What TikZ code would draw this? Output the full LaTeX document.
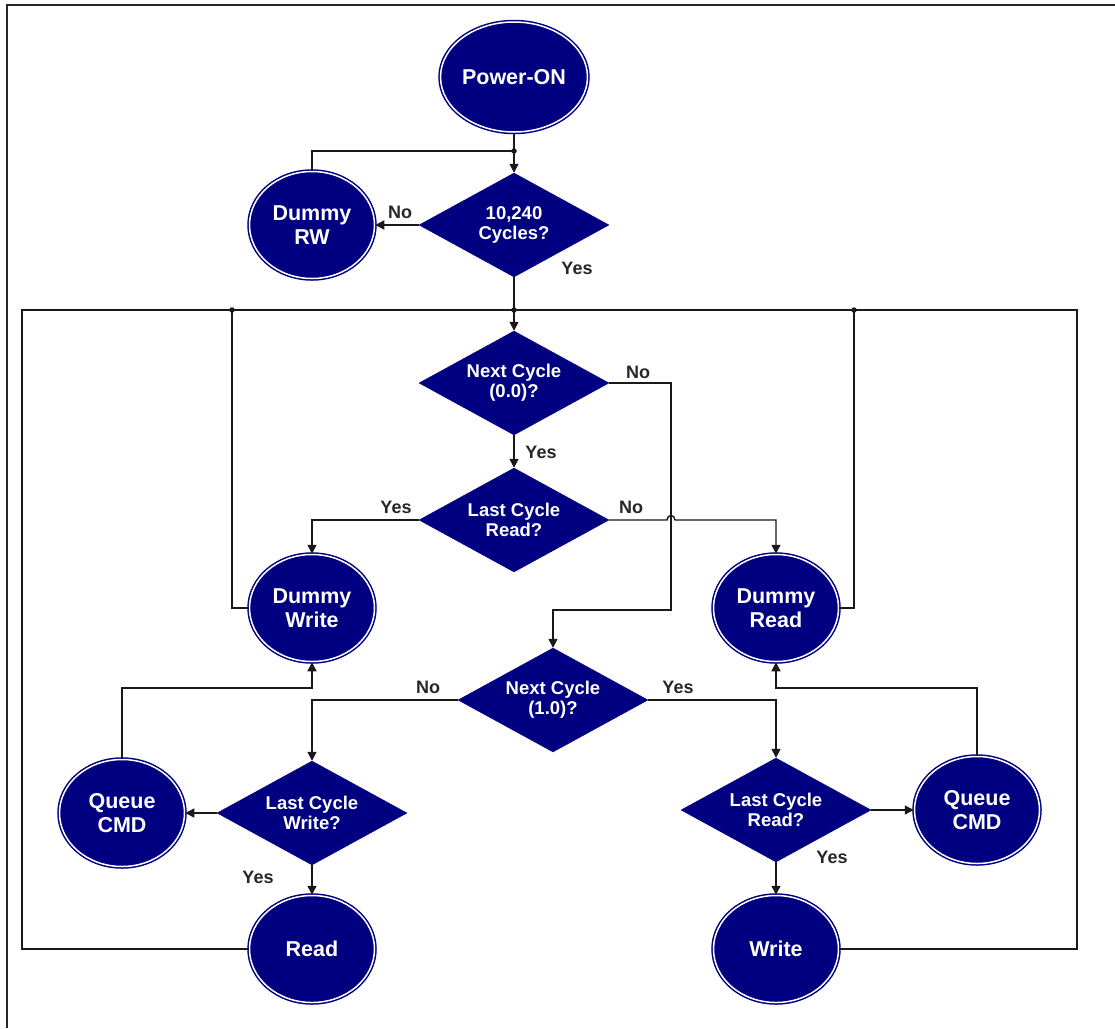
\documentclass[tikz,border=0pt]{standalone}
\usepackage{fontspec}
\setmainfont{Liberation Sans}
\usetikzlibrary{shapes.geometric,arrows.meta}
\definecolor{navyfill}{RGB}{0,0,128}
\definecolor{wire}{RGB}{25,25,25}

\begin{document}
\begin{tikzpicture}[x=1pt,y=-1pt,
  state/.style={ellipse, fill=navyfill, draw=navyfill, line width=1.5pt,
    double=white, double distance=1.5pt, minimum width=125pt, minimum height=107pt,
    inner sep=0pt, text=white, font=\fontsize{21.5}{24}\selectfont\bfseries, align=center},
  test/.style={diamond, shape aspect=1.83, fill=navyfill, draw=navyfill, line width=0.4pt,
    minimum width=190pt, minimum height=104pt, inner sep=0pt, text=white,
    font=\fontsize{18.5}{20}\selectfont\bfseries, align=center},
  lbl/.style={text=black!85, font=\fontsize{18}{20}\selectfont\bfseries, inner sep=0pt},
  wirepath/.style={draw=wire, line width=1.4pt},
  flow/.style={wirepath, -{Triangle[length=9pt,width=9pt]}},
  dot/.style={circle, fill=wire, inner sep=0pt, minimum size=5.5pt}
]
\useasboundingbox (0,0) rectangle (1115,1028);

% page frame
\draw[line width=2pt, black!85] (7,1028) -- (7,5) -- (1115,5);

% states and tests
\node[state, minimum width=140pt, minimum height=110pt] (power) at (514,77) {Power-ON};
\node[test]  (cyc)     at (514,225) {10,240\\Cycles?};
\node[state] (dummyrw) at (312,225) {Dummy\\RW};
\node[test]  (next00)  at (514,383) {Next Cycle\\(0.0)?};
\node[test]  (lastrd1) at (514,520) {Last Cycle\\Read?};
\node[state] (dwrite)  at (312,608) {Dummy\\Write};
\node[state] (dread)   at (776,608) {Dummy\\Read};
\node[test]  (next10)  at (553,700) {Next Cycle\\(1.0)?};
\node[test]  (lastwr)  at (312,813) {Last Cycle\\Write?};
\node[state] (qleft)   at (122,813) {Queue\\CMD};
\node[state] (readn)   at (312,949) {Read};
\node[test]  (lastrd2) at (776,810) {Last Cycle\\Read?};
\node[state] (qright)  at (977,810) {Queue\\CMD};
\node[state] (writen)  at (776,949) {Write};

% junctions and corners
\coordinate (j1) at (514,151);
\coordinate (j2) at (514,310);
\coordinate (jl) at (232,310);
\coordinate (jr) at (854,310);
\coordinate (lcorner) at (22,310);
\coordinate (rcorner) at (1077,310);
\coordinate (bendA) at (671,610);
\coordinate (bendL) at (312,688);
\coordinate (bendR) at (776,688);

% start-up section
\draw[flow] (power) -- (cyc);
\draw[wirepath] (dummyrw.north) |- (j1);
\draw[flow] (cyc.west) -- (dummyrw.east);
\draw[flow] (cyc) -- (next00);

% return loops
\draw[wirepath] (readn.west) -| (lcorner) -- (j2);
\draw[wirepath] (writen.east) -| (rcorner) -- (j2);
\draw[wirepath] (dwrite.west) -| (jl);
\draw[wirepath] (dread.east) -| (jr);

% cycle tests
\draw[flow] (next00) -- (lastrd1);
\draw[flow] (next00.east) -| (bendA) -| (next10.north);
\draw[flow] (lastrd1.west) -| (dwrite.north);
\draw[flow] (lastrd1.east) -- (667,520) .. controls (667,514) and (675,514) .. (675,520) -| (dread.north);
\draw[flow] (next10.west) -| (lastwr.north);
\draw[flow] (next10.east) -| (lastrd2.north);

% command handling
\draw[flow] (lastwr.west) -- (qleft.east);
\draw[flow] (qleft.north) |- (bendL) -- (dwrite.south);
\draw[flow] (lastwr.south) -- (readn.north);
\draw[flow] (lastrd2.east) -- (qright.west);
\draw[flow] (qright.north) |- (bendR) -- (dread.south);
\draw[flow] (lastrd2.south) -- (writen.north);

% junction dots
\node[dot] at (j1) {};
\node[dot] at (j2) {};
\node[dot] at (jl) {};
\node[dot] at (jr) {};

% branch labels
\node[lbl] at (400,212) {No};
\node[lbl] at (577,268) {Yes};
\node[lbl] at (638,372) {No};
\node[lbl] at (541,452) {Yes};
\node[lbl] at (396,507) {Yes};
\node[lbl] at (631,507) {No};
\node[lbl] at (428,687) {No};
\node[lbl] at (678,687) {Yes};
\node[lbl] at (258,877) {Yes};
\node[lbl] at (832,857) {Yes};
\end{tikzpicture}
\end{document}
